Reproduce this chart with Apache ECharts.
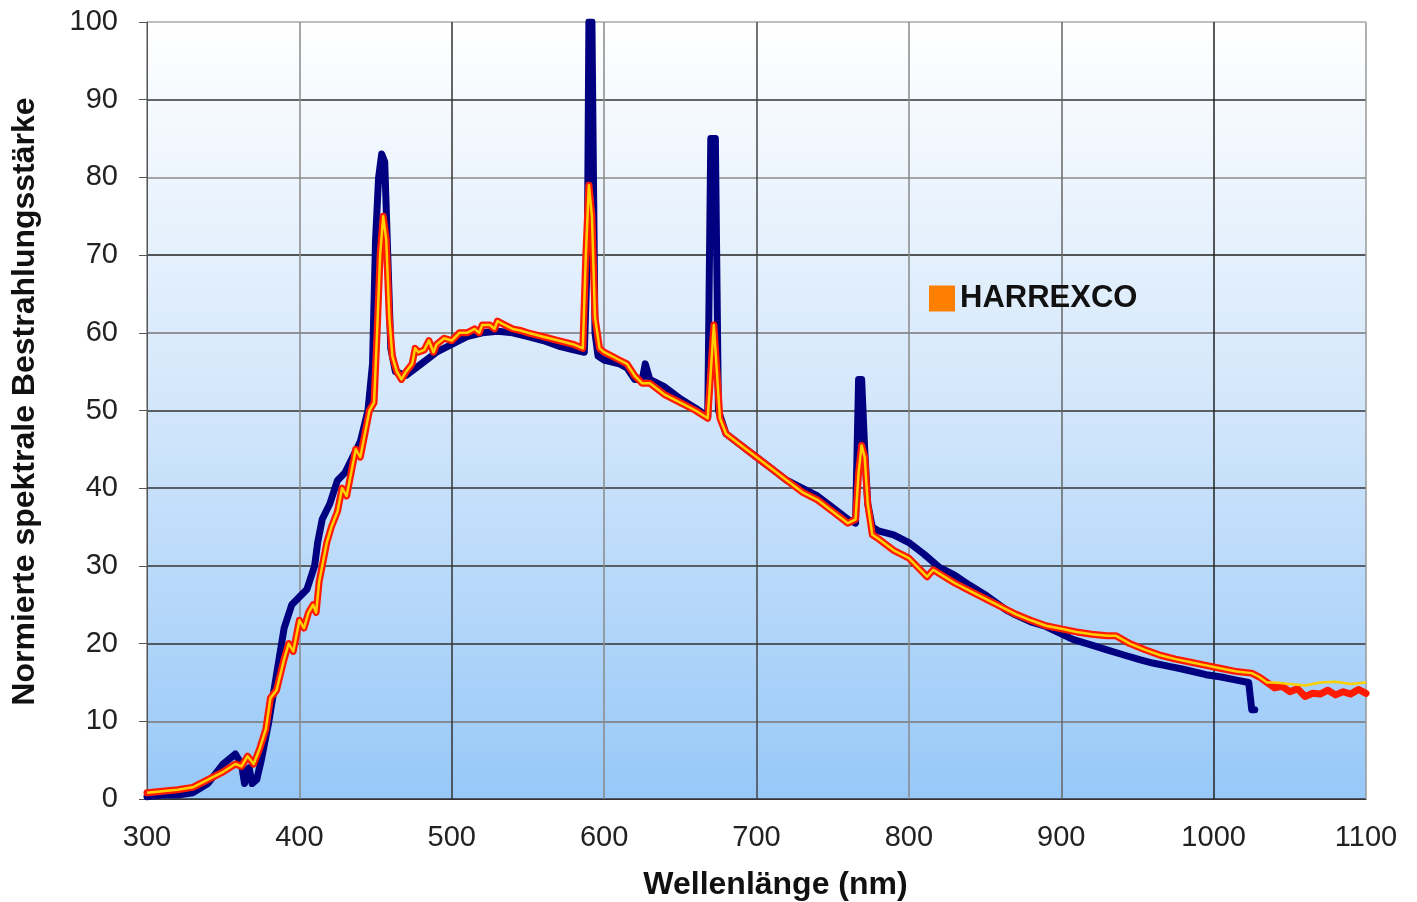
<!DOCTYPE html>
<html>
<head>
<meta charset="UTF-8">
<title>Spektrum</title>
<script type="text/javascript" src="https://cdn.jsdelivr.net/npm/echarts@6/dist/echarts.min.js"></script>
<style>
	html,body{margin:0;padding:0;background:#fff;}
</style>
</head>
<body>
	<div id="show" style="width:1417px;height:902px"></div>
	<script type="text/javascript">
		// Referenzkurve (dunkelblau): [nm, Wert]
		var refCurve=[[300,0.3],[310,0.5],[320,0.5],[330,0.8],[340,2],[350,4.5],[358,5.8],[362,4.5],[364,2],[367,4],[369,2],[372,2.5],[375,5],[380,10],[385,16],[390,22],[395,25],[400,26],[405,27],[410,30],[412,33],[415,36],[420,38],[425,41],[430,42],[435,44],[440,46],[445,50],[448,56],[450,72],[452,80],[454,83],[456,82],[458,70],[460,58],[463,55],[470,54.5],[480,56],[490,57.5],[500,58.5],[510,59.5],[520,60],[530,60.2],[540,60],[550,59.5],[560,59],[570,58.3],[580,57.8],[587,57.5],[589,70],[590,100],[592,100],[594,60],[596,57],[600,56.5],[610,56],[615,55.5],[620,54],[625,54],[627,56],[630,54],[640,53],[650,51.5],[660,50.3],[668,49.2],[670,85],[673,85],[675,50],[680,47],[690,45.5],[700,44],[710,42.5],[720,41],[730,40],[740,39],[750,37.5],[760,36],[765,35.5],[767,54],[769,54],[771,45],[773,38],[776,35],[780,34.5],[790,34],[800,33],[810,31.5],[820,29.8],[830,28.8],[840,27.5],[850,26.3],[864,24.3],[870,23.7],[880,22.8],[890,22.2],[908,20.5],[920,19.8],[930,19.2],[940,18.6],[952,17.9],[960,17.5],[970,17.1],[980,16.7],[995,16],[1005,15.7],[1015,15.3],[1023,15],[1025,11.5],[1027,11.5]];

		// HARREXCO (rot)
		var harrexco=[[300,0.8],[310,1],[320,1.2],[330,1.5],[340,2.5],[350,3.5],[358,4.5],[362,4.2],[366,5.5],[370,4.5],[374,6.5],[378,9],[381,13],[385,14],[390,18],[393,20],[396,19],[400,23],[403,22],[406,24],[409,25],[411,24],[413,28],[416,31],[418,33],[421,35],[425,37],[428,40],[431,39],[434,42],[437,45],[440,44],[443,47],[446,50],[449,51],[451,60],[453,70],[455,75],[457,72],[459,62],[461,57],[464,55],[467,54],[470,55],[474,56],[476,58],[478,57.5],[482,57.8],[485,59],[488,57.5],[490,58.5],[495,59.3],[500,59],[505,60],[510,60],[515,60.5],[518,60],[520,61],[525,61],[528,60.5],[530,61.5],[535,61],[540,60.5],[545,60.3],[550,60],[560,59.5],[570,59],[580,58.5],[586,58],[588,70],[590,79],[592,75],[594,62],[597,58],[600,57.5],[610,56.5],[615,56],[620,54.5],[625,53.5],[630,53.5],[640,52],[650,51],[660,50],[668,49],[670,55],[672,61],[674,55],[676,49],[680,47],[690,45.5],[700,44],[710,42.5],[720,41],[730,39.5],[740,38.5],[750,37],[760,35.5],[765,36],[767,42],[769,45.5],[771,44],[773,38],[776,34],[780,33.5],[790,32],[800,31],[812,28.6],[816,29.5],[820,29],[830,27.8],[840,26.8],[850,25.8],[860,24.8],[870,23.8],[880,23],[890,22.3],[900,21.9],[910,21.5],[920,21.2],[930,21],[936,21],[945,20],[955,19.2],[965,18.5],[975,18],[985,17.6],[995,17.2],[1005,16.8],[1015,16.4],[1025,16.2],[1030,15.7],[1035,15],[1040,14.3],[1045,14.5],[1050,13.8],[1055,14.2],[1060,13.2],[1065,13.6],[1070,13.5],[1075,14],[1080,13.4],[1085,13.8],[1090,13.5],[1095,14.1],[1100,13.6]];

		// gelbe Innenlinie, am Ende etwas ueber der roten
		var yellowTail=[[1040,15],[1050,14.8],[1060,14.6],[1070,15],[1080,15.1],[1090,14.8],[1100,15]];

		var xTicks=[300,400,500,600,700,800,900,1000,1100];
		var yTicks=[0,10,20,30,40,50,60,70,80,90,100];

		var yellowCurve=[];
		for(var i=0;i<harrexco.length;i++){
			if(harrexco[i][0]<=1035) yellowCurve.push(harrexco[i]);
		}
		yellowCurve=yellowCurve.concat(yellowTail);

		var myCharts=echarts.init(document.getElementById('show'));
		myCharts.setOption({
			animation:false,
			textStyle:{fontFamily:'Liberation Sans, Arial, sans-serif'},
			grid:{
				left:147,right:51,top:22,bottom:103,
				outerBoundsMode:'none',
				show:true,
				borderWidth:0,
				backgroundColor:new echarts.graphic.LinearGradient(0,0,0,1,[
					{offset:0,color:'#ffffff'},
					{offset:0.5,color:'#d2e6fb'},
					{offset:1,color:'#97c8f8'}
				])
			},
			legend:{
				data:[{name:'HARREXCO',itemStyle:{color:'#ff8000'}}],
				left:924,top:278,
				icon:'rect',itemWidth:26,itemHeight:26,itemGap:8,
				textStyle:{fontSize:31,fontWeight:'bold',color:'#111'}
			},
			xAxis:{
				type:'value',
				min:xTicks[0],max:xTicks[xTicks.length-1],interval:100,
				name:'Wellenlänge (nm)',
				nameLocation:'middle',nameGap:70,
				nameTextStyle:{fontSize:32,fontWeight:'bold',color:'#111',padding:[0,0,0,38]},
				axisLine:{lineStyle:{color:'#333',width:1}},
				axisTick:{show:false},
				axisLabel:{fontSize:29,color:'#222',margin:24,formatter:function(v){return String(v);}},
				splitLine:{lineStyle:{color:['#888','#888','#333','#888','#444','#888','#666','#222','#999'],width:1.5}}
			},
			yAxis:{
				type:'value',
				min:yTicks[0],max:yTicks[yTicks.length-1],interval:10,
				name:'Normierte spektrale Bestrahlungsstärke',
				nameLocation:'middle',nameGap:106,
				nameTextStyle:{fontSize:32,fontWeight:'bold',color:'#111',padding:[0,0,0,18]},
				axisLine:{show:true,lineStyle:{color:'#555',width:1}},
				axisTick:{show:true,length:8,lineStyle:{color:'#555'}},
				axisLabel:{fontSize:29,color:'#222',margin:29,formatter:function(v){return String(v);}},
				splitLine:{lineStyle:{color:['#333','#777','#333','#333','#333','#333','#777','#222','#888','#333','#aaa'],width:1.5}}
			},
			series:[{
				name:'Referenz',
				type:'line',
				data:refCurve,
				showSymbol:false,
				lineStyle:{color:'#000080',width:7,join:'round',cap:'round'},
				z:2
			},{
				name:'HARREXCO',
				type:'line',
				data:harrexco,
				showSymbol:false,
				lineStyle:{color:'#ff1a00',width:7,join:'round',cap:'round'},
				z:3
			},{
				name:'HARREXCO gelb',
				type:'line',
				data:yellowCurve,
				showSymbol:false,
				lineStyle:{color:'#ffd000',width:2.5,join:'round'},
				z:4
			}]
		});
	</script>
</body>
</html>
